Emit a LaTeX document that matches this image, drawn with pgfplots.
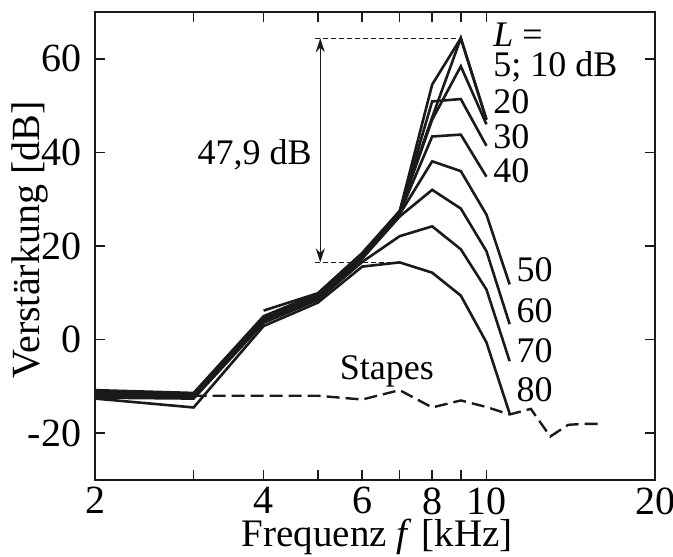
\documentclass[border=0pt]{standalone}
\usepackage{fontspec}
\setmainfont{Liberation Serif}
\usepackage{pgfplots}
\pgfplotsset{compat=1.18}
\usetikzlibrary{arrows.meta}
\definecolor{ink}{HTML}{1A1A1A}
\begin{document}
\fontsize{20}{24}\selectfont
\begin{tikzpicture}
\useasboundingbox (-47.5pt,-38pt) rectangle (289pt,240pt);
\begin{axis}[
  at={(0pt,0pt)}, anchor=south west,
  scale only axis, width=280pt, height=234pt,
  xmode=log, xmin=2, xmax=20, ymin=-30, ymax=70,
  xtick={2,4,6,8,10,20}, xticklabels={2,4,6,8,10,20},
  minor xtick={3,5,7,9},
  ytick={-20,0,20,40,60},
  /pgf/number format/assume math mode=true,
  tick label style={font=\fontsize{20}{24}\selectfont},
  xticklabel style={inner sep=3.5pt},
  axis line style={line width=1.4pt, ink},
  major tick length=5pt, minor tick length=5pt,
  tick style={line width=0.8pt, ink},
  xlabel={Frequenz \textit{f} [kHz]},
  ylabel={Verstärkung [dB]},
  xlabel style={at={(axis description cs:0.504,-0.161)}, anchor=south, inner sep=0pt, font=\fontsize{19.5}{23}\selectfont},
  ylabel style={at={(axis description cs:-0.116,0.513)}, anchor=center},
  curve/.style={line width=1.3pt, ink, line join=miter},
]
% L = 5 dB
\addplot[curve] coordinates {(4,6.2)(5,9.9)(6,18.5)(7,27.5)(8,47.5)(9,64.4)(10,47)};
% L = 10 dB
\addplot[curve] coordinates {(2,-10.8)(3,-11.4)(4,5.0)(5,9.8)(6,18.4)(7,27.4)(8,54.5)(9,64.4)(10,47)};
% L = 20 dB
\addplot[curve] coordinates {(2,-11.2)(3,-11.6)(4,4.8)(5,9.6)(6,18.2)(7,27.3)(8,47)(9,58.4)(10,46)};
% L = 30 dB
\addplot[curve] coordinates {(2,-11.5)(3,-11.8)(4,4.6)(5,9.4)(6,18.0)(7,27.2)(8,50.9)(9,51.4)(10,41.4)};
% L = 40 dB
\addplot[curve] coordinates {(2,-11.8)(3,-12.0)(4,4.4)(5,9.2)(6,17.8)(7,27.0)(8,43.4)(9,43.8)(10,34.8)};
% L = 50 dB
\addplot[curve] coordinates {(2,-12.0)(3,-12.2)(4,4.2)(5,9.0)(6,17.6)(7,26.8)(8,38.1)(9,36.0)(10,26.7)(11,11.8)};
% L = 60 dB
\addplot[curve] coordinates {(2,-12.2)(3,-12.4)(4,3.9)(5,8.8)(6,17.3)(7,26.3)(8,32.0)(9,28.0)(10,18.9)(11,3.3)};
% L = 70 dB
\addplot[curve] coordinates {(2,-12.4)(3,-12.6)(4,3.6)(5,8.5)(6,16.6)(7,22.1)(8,24.2)(9,19.3)(10,10.7)(11,-4.6)};
% L = 80 dB
\addplot[curve] coordinates {(2,-12.6)(3,-14.5)(4,2.9)(5,7.9)(6,15.6)(7,16.5)(8,14.3)(9,9.4)(10,-0.6)(11,-15.8)};
% Stapes
\addplot[line width=1.2pt, ink, dash pattern=on 6.5pt off 3pt] coordinates {(3,-12)(4,-12)(5,-12)(6,-12.8)(7,-10.8)(8,-14.5)(9,-13)(10,-14.4)(11,-16)(12,-14.8)(13,-20.7)(14,-18.2)(15,-18)(16,-18)};
% annotation
\draw[line width=0.5pt, ink, dash pattern=on 2.5pt off 1.5pt] (axis cs:4.95,64.4) -- (axis cs:9,64.4);
\draw[line width=0.5pt, ink, dash pattern=on 2.5pt off 1.5pt] (axis cs:4.95,16.5) -- (axis cs:7,16.5);
\draw[line width=0.6pt, ink, {Stealth[length=7pt,width=4.5pt]}-{Stealth[length=7pt,width=4.5pt]}] (axis cs:5.05,64.4) -- (axis cs:5.05,16.5);
\node[anchor=east, inner sep=0pt, font=\fontsize{18}{22}\selectfont] at (axis cs:4.88,39.5) {47,9 dB};
\begin{scope}[every node/.style={anchor=west, inner sep=0pt, font=\fontsize{18}{22}\selectfont}]
\node at (axis cs:10.27,65.1) {\textit{L} =};
\node at (axis cs:10.27,58.4) {5; 10 dB};
\node at (axis cs:10.27,50.9) {20};
\node at (axis cs:10.27,43.4) {30};
\node at (axis cs:10.27,36.0) {40};
\node at (axis cs:11.3,15.0) {50};
\node at (axis cs:11.3,6.1) {60};
\node at (axis cs:11.3,-2.4) {70};
\node at (axis cs:11.3,-10.6) {80};
\end{scope}
\node[anchor=center, inner sep=0pt, font=\fontsize{18}{22}\selectfont] at (axis cs:6.64,-6.8) {Stapes};
\end{axis}
\end{tikzpicture}
\end{document}
